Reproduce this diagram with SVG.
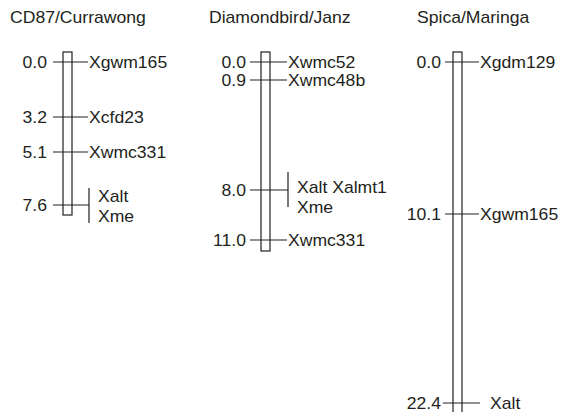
<svg xmlns="http://www.w3.org/2000/svg" width="566" height="412" viewBox="0 0 566 412">
<style>
text{font-family:"Liberation Sans",Arial,Helvetica,sans-serif;font-size:16px;fill:#231f20}
.r{text-anchor:end}
.chr{fill:#fff;stroke:#231f20;stroke-width:1.2}
.ln{stroke:#231f20;stroke-width:1.2;fill:none}
</style>
<rect width="566" height="412" fill="#fff"/>
<g id="cd87">
<text transform="matrix(1.1 0 0 1 10 23)">CD87/Currawong</text>
<rect class="chr" x="63" y="52" width="9" height="163"/>
<text class="r" transform="matrix(1.1 0 0 1 47 67.5)">0.0</text>
<text class="r" transform="matrix(1.1 0 0 1 47 122.5)">3.2</text>
<text class="r" transform="matrix(1.1 0 0 1 47 157.5)">5.1</text>
<text class="r" transform="matrix(1.1 0 0 1 47 211)">7.6</text>
<text transform="matrix(1.1 0 0 1 89 67.5)">Xgwm165</text>
<text transform="matrix(1.1 0 0 1 89 122.5)">Xcfd23</text>
<text transform="matrix(1.1 0 0 1 89 157.5)">Xwmc331</text>
<text transform="matrix(1.1 0 0 1 98 202)">Xalt</text>
<text transform="matrix(1.1 0 0 1 98 222)">Xme</text>
</g>
<g id="diamondbird">
<text transform="matrix(1.1 0 0 1 209 23)">Diamondbird/Janz</text>
<rect class="chr" x="261" y="52" width="9" height="199"/>
<text class="r" transform="matrix(1.1 0 0 1 246 67.5)">0.0</text>
<text class="r" transform="matrix(1.1 0 0 1 246 85.5)">0.9</text>
<text class="r" transform="matrix(1.1 0 0 1 246 195.5)">8.0</text>
<text class="r" transform="matrix(1.1 0 0 1 246 245.5)">11.0</text>
<text transform="matrix(1.1 0 0 1 288 67.5)">Xwmc52</text>
<text transform="matrix(1.1 0 0 1 288 85.5)">Xwmc48b</text>
<text transform="matrix(1.1 0 0 1 297 193)">Xalt Xalmt1</text>
<text transform="matrix(1.1 0 0 1 297 213)">Xme</text>
<text transform="matrix(1.1 0 0 1 288 245.5)">Xwmc331</text>
</g>
<g id="spica">
<text transform="matrix(1.1 0 0 1 417 23)">Spica/Maringa</text>
<rect class="chr" x="453" y="52" width="9" height="380"/>
<text class="r" transform="matrix(1.1 0 0 1 441 67.5)">0.0</text>
<text class="r" transform="matrix(1.1 0 0 1 441 219.5)">10.1</text>
<text class="r" transform="matrix(1.1 0 0 1 441 408.5)">22.4</text>
<text transform="matrix(1.1 0 0 1 480 67.5)">Xgdm129</text>
<text transform="matrix(1.1 0 0 1 480 219.5)">Xgwm165</text>
<text transform="matrix(1.1 0 0 1 490 408.5)">Xalt</text>
</g>
<g id="connectors" class="ln">
<path d="M53 62H88M53 117H88M53 152H88M53 205H89M89 188V223"/>
<path d="M250 62H287M250 80H287M250 190H288M288 172V207M250 240H287"/>
<path d="M445 62H479M445 214H479M443 403H480"/>
</g>
</svg>
